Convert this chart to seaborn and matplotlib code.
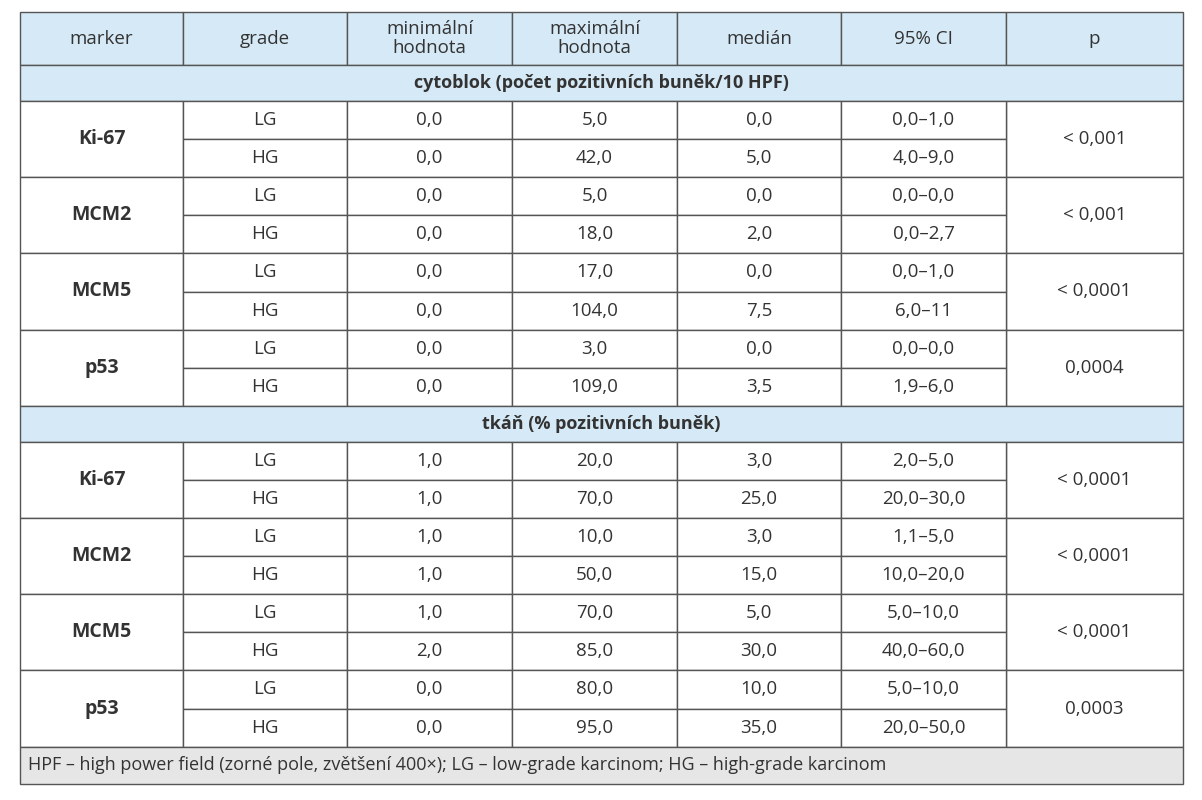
import seaborn as sns
import matplotlib.pyplot as plt
from matplotlib.patches import Rectangle

headers = ['marker', 'grade', 'minimální\nhodnota', 'maximální\nhodnota', 'medián', '95% CI', 'p']
sections = ['cytoblok (počet pozitivních buněk/10 HPF)', 'tkáň (% pozitivních buněk)']
markers = ['Ki-67', 'MCM2', 'MCM5', 'p53']
grades = ['LG', 'HG']
mins = [['0,0', '0,0', '0,0', '0,0', '0,0', '0,0', '0,0', '0,0'],
        ['1,0', '1,0', '1,0', '1,0', '1,0', '2,0', '0,0', '0,0']]
maxs = [['5,0', '42,0', '5,0', '18,0', '17,0', '104,0', '3,0', '109,0'],
        ['20,0', '70,0', '10,0', '50,0', '70,0', '85,0', '80,0', '95,0']]
medians = [['0,0', '5,0', '0,0', '2,0', '0,0', '7,5', '0,0', '3,5'],
           ['3,0', '25,0', '3,0', '15,0', '5,0', '30,0', '10,0', '35,0']]
cis = [['0,0–1,0', '4,0–9,0', '0,0–0,0', '0,0–2,7', '0,0–1,0', '6,0–11', '0,0–0,0', '1,9–6,0'],
       ['2,0–5,0', '20,0–30,0', '1,1–5,0', '10,0–20,0', '5,0–10,0', '40,0–60,0', '5,0–10,0', '20,0–50,0']]
pvals = [['< 0,001', '< 0,001', '< 0,0001', '0,0004'],
         ['< 0,0001', '< 0,0001', '< 0,0001', '0,0003']]
footnote = 'HPF – high power field (zorné pole, zvětšení 400×); LG – low-grade karcinom; HG – high-grade karcinom'

sns.set_style('white')
plt.rcParams['font.family'] = ['Open Sans', 'DejaVu Sans']

cols = [20, 183, 347, 512, 677, 841, 1006, 1183]
blue = '#d6e9f6'
grey = '#e6e6e6'
line = '#555555'
txt = '#333333'

fig = plt.figure(figsize=(12.02, 8.0), dpi=100)
ax = fig.add_axes([0, 0, 1, 1])
ax.set_xlim(0, 1202)
ax.set_ylim(800, 0)
ax.axis('off')

def cell(x0, x1, y0, y1, s, color='white', bold=False, ha='center', size=13.5):
    ax.add_patch(Rectangle((x0, y0), x1 - x0, y1 - y0, facecolor=color, edgecolor=line, lw=1))
    x = (x0 + x1) / 2 if ha == 'center' else x0 + 8
    ax.text(x, (y0 + y1) / 2, s, ha=ha, va='center', fontsize=size, color=txt,
            fontweight='bold' if bold else 'normal', linespacing=1.05)

y = 12
for i, h in enumerate(headers):
    cell(cols[i], cols[i + 1], y, 65, h, blue, size=13.5)
y = 65
rh = 38.1
for s in range(2):
    cell(cols[0], cols[-1], y, y + 36, sections[s], blue, bold=True, size=13)
    y += 36
    for m in range(4):
        cell(cols[0], cols[1], y, y + 2 * rh, markers[m], bold=True, size=14)
        cell(cols[6], cols[7], y, y + 2 * rh, pvals[s][m])
        for g in range(2):
            k = 2 * m + g
            y0, y1 = y + g * rh, y + (g + 1) * rh
            vals = [grades[g], mins[s][k], maxs[s][k], medians[s][k], cis[s][k]]
            for c, v in enumerate(vals):
                cell(cols[c + 1], cols[c + 2], y0, y1, v)
        y += 2 * rh
cell(cols[0], cols[-1], y, y + 37, footnote, grey, ha='left', size=13)

fig.savefig('out.png', dpi=100)
